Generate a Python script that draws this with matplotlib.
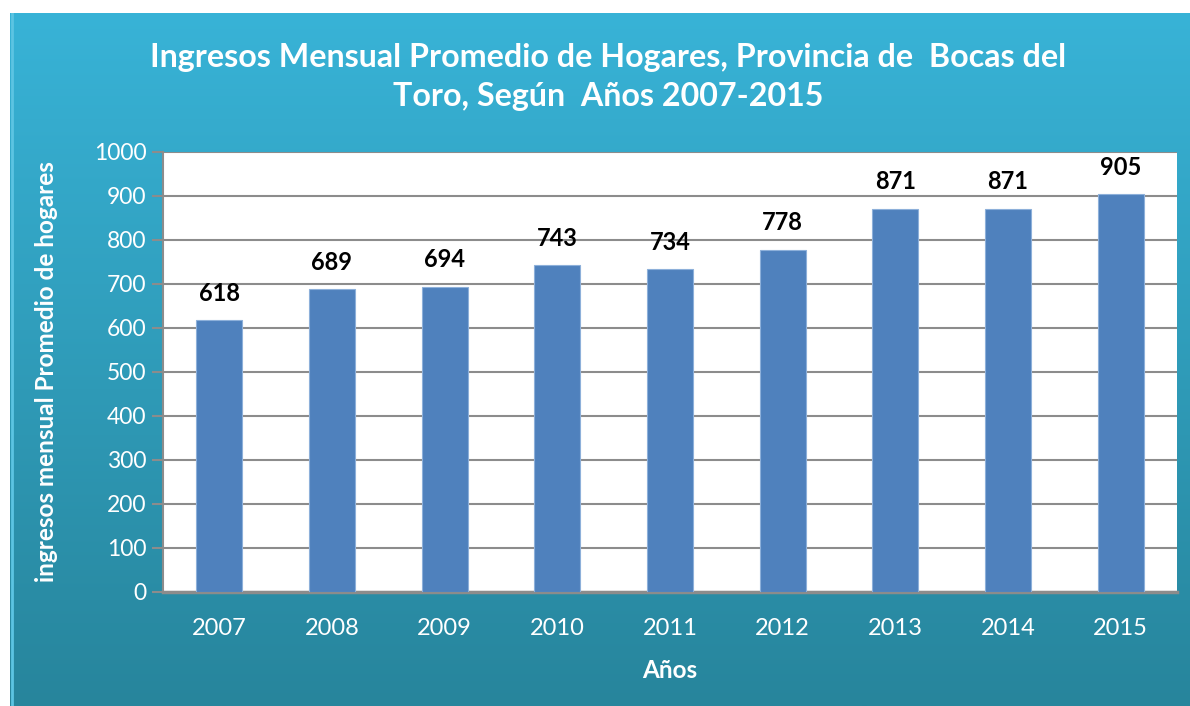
import numpy as np
import matplotlib
matplotlib.use('Agg')
import matplotlib.pyplot as plt

years = ['2007', '2008', '2009', '2010', '2011', '2012', '2013', '2014', '2015']
ingresos = [618, 689, 694, 743, 734, 778, 871, 871, 905]
titulo = 'Ingresos Mensual Promedio de Hogares, Provincia de  Bocas del\nToro, Según  Años 2007-2015'
ylabel = 'ingresos mensual Promedio de hogares'
xlabel = 'Años'

plt.rcParams['font.family'] = ['Lato', 'DejaVu Sans']

W, H = 1190, 706
fig = plt.figure(figsize=(W / 100, H / 100), dpi=100)
fig.patch.set_facecolor('white')

# gradient background panel
bg = fig.add_axes([10 / W, 0, 1 - 10 / W, 1 - 13 / H])
top = np.array([0x38, 0xB3, 0xD7]) / 255
bot = np.array([0x27, 0x85, 0x9C]) / 255
t = np.linspace(0, 1, 256)[:, None]
grad = (top[None, :] * (1 - t) + bot[None, :] * t)[:, None, :]
bg.imshow(grad, aspect='auto', extent=[0, 1, 0, 1])
bg.axvline(0.002, color='#5cc4e2', lw=2)
bg.set_axis_off()

# plot area
left, right, top_px, bot_px = 163, 1177, 152, 592
ax = fig.add_axes([left / W, 1 - bot_px / H, (right - left) / W, (bot_px - top_px) / H])
ax.set_facecolor('white')
x = np.arange(len(years))
bars = ax.bar(x, ingresos, width=0.41, color='#4F81BD', edgecolor='#8DB0DA', linewidth=0.8, zorder=3)
ax.set_xlim(-0.5, len(years) - 0.5)
ax.set_ylim(0, 1000)
ax.set_yticks(range(0, 1001, 100))
ax.set_xticks(x)
ax.set_xticklabels(years)
ax.grid(axis='y', color='#8c8c8c', lw=1.5, zorder=0)
for s in ['top', 'right']:
    ax.spines[s].set_visible(False)
ax.spines['left'].set_color('#8c8c8c')
ax.spines['left'].set_linewidth(1.5)
ax.spines['bottom'].set_color('#8c8c8c')
ax.spines['bottom'].set_linewidth(2.5)
ax.tick_params(axis='y', colors='#8c8c8c', length=8, width=1.5, labelcolor='white', labelsize=16.5, pad=4)
ax.tick_params(axis='x', length=0, labelcolor='white', labelsize=17, pad=19)

for b, v in zip(bars, ingresos):
    ax.annotate(str(v), (b.get_x() + b.get_width() / 2, v), xytext=(0, 11), textcoords='offset points',
                ha='center', va='bottom', fontsize=17, fontweight='bold', color='black')

ax.set_xlabel(xlabel, color='white', fontsize=17.5, fontweight='bold', labelpad=14)
fig.text(47 / W, 1 - 372 / H, ylabel, rotation=90, color='white', fontsize=17.5, fontweight='bold',
         ha='center', va='center')
fig.text(608 / W, 1 - 77 / H, titulo, color='white', fontsize=23.2, fontweight='bold',
         ha='center', va='center', linespacing=1.4)

fig.savefig('out.png', dpi=100)
